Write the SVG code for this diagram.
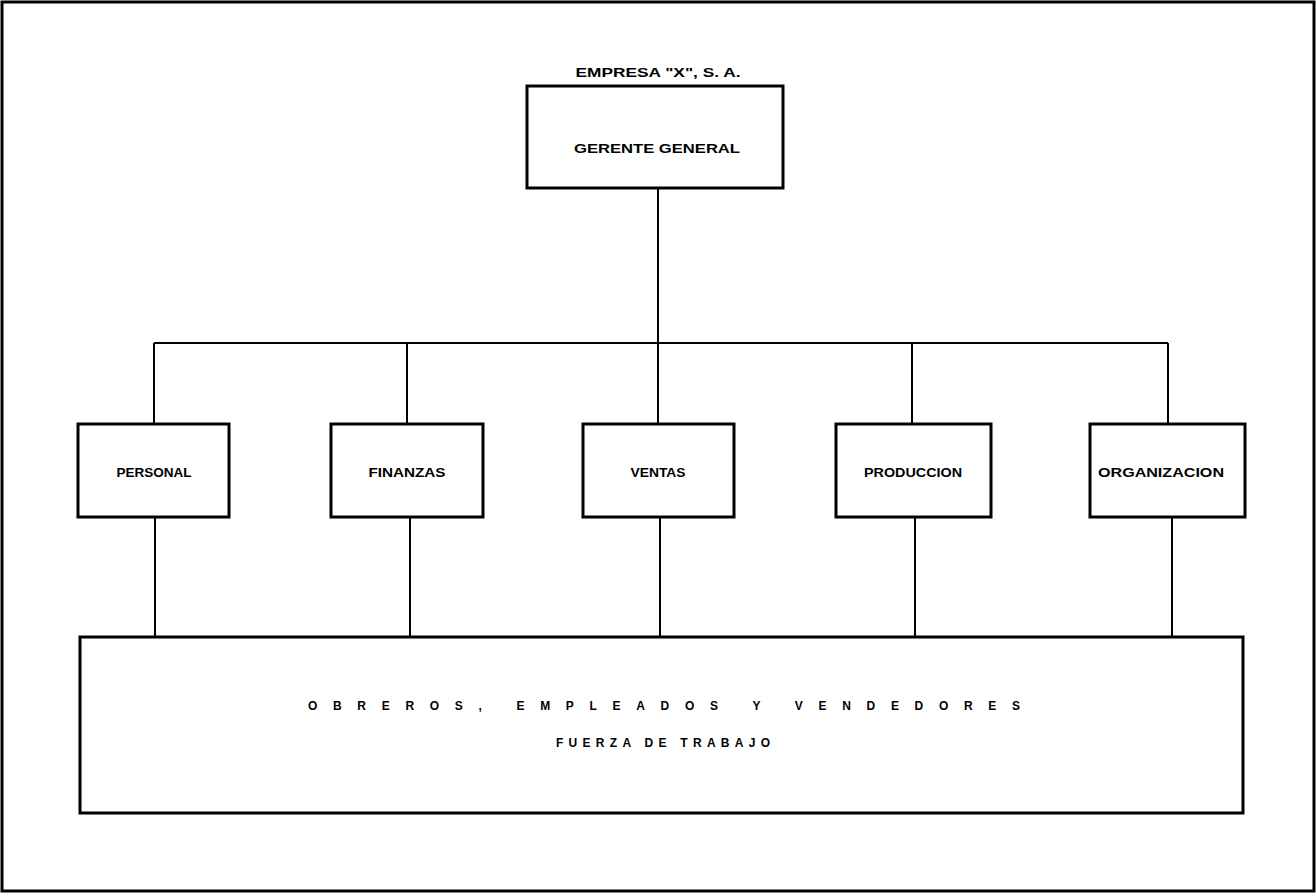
<svg xmlns="http://www.w3.org/2000/svg" width="1316" height="894" viewBox="0 0 1316 894">
<style>
.box{fill:#fff;stroke:#000;stroke-width:3}
.ln{stroke:#000;stroke-width:2;fill:none}
.t{font-family:"Liberation Sans",Arial,sans-serif;font-weight:bold;font-size:12px;fill:#000;text-anchor:middle}
</style>
<rect x="2" y="2" width="1312" height="889" fill="#fff" stroke="#000" stroke-width="3"/>
<text class="t" x="658" y="77" font-size="14" textLength="165" lengthAdjust="spacingAndGlyphs">EMPRESA "X", S. A.</text>
<g id="connectors">
<path class="ln" d="M658 188V343M154 343H1168M154 343V423M407 343V423M658 343V423M912 343V423M1168 343V423"/>
<path class="ln" d="M155 517V636M410 517V636M660 517V636M915 517V636M1172 517V636"/>
</g>
<g id="gerente">
<rect class="box" x="527" y="86" width="256" height="102"/>
<text class="t" x="657" y="153" textLength="166" lengthAdjust="spacingAndGlyphs">GERENTE GENERAL</text>
</g>
<g id="personal">
<rect class="box" x="78" y="424" width="151" height="93"/>
<text class="t" x="154" y="477" textLength="75" lengthAdjust="spacingAndGlyphs">PERSONAL</text>
</g>
<g id="finanzas">
<rect class="box" x="331" y="424" width="152" height="93"/>
<text class="t" x="407" y="477" textLength="77" lengthAdjust="spacingAndGlyphs">FINANZAS</text>
</g>
<g id="ventas">
<rect class="box" x="583" y="424" width="151" height="93"/>
<text class="t" x="658" y="477" textLength="55" lengthAdjust="spacingAndGlyphs">VENTAS</text>
</g>
<g id="produccion">
<rect class="box" x="836" y="424" width="155" height="93"/>
<text class="t" x="913" y="477" textLength="98" lengthAdjust="spacingAndGlyphs">PRODUCCION</text>
</g>
<g id="organizacion">
<rect class="box" x="1090" y="424" width="155" height="93"/>
<text class="t" x="1161" y="477" textLength="126" lengthAdjust="spacingAndGlyphs">ORGANIZACION</text>
</g>
<g id="fuerza">
<rect class="box" x="80" y="637" width="1163" height="176"/>
<text class="t" x="664" y="710" font-size="14" textLength="712" lengthAdjust="spacing">OBREROS, EMPLEADOS Y VENDEDORES</text>
<text class="t" x="663" y="747" font-size="13" textLength="214" lengthAdjust="spacing">FUERZA DE TRABAJO</text>
</g>
</svg>
